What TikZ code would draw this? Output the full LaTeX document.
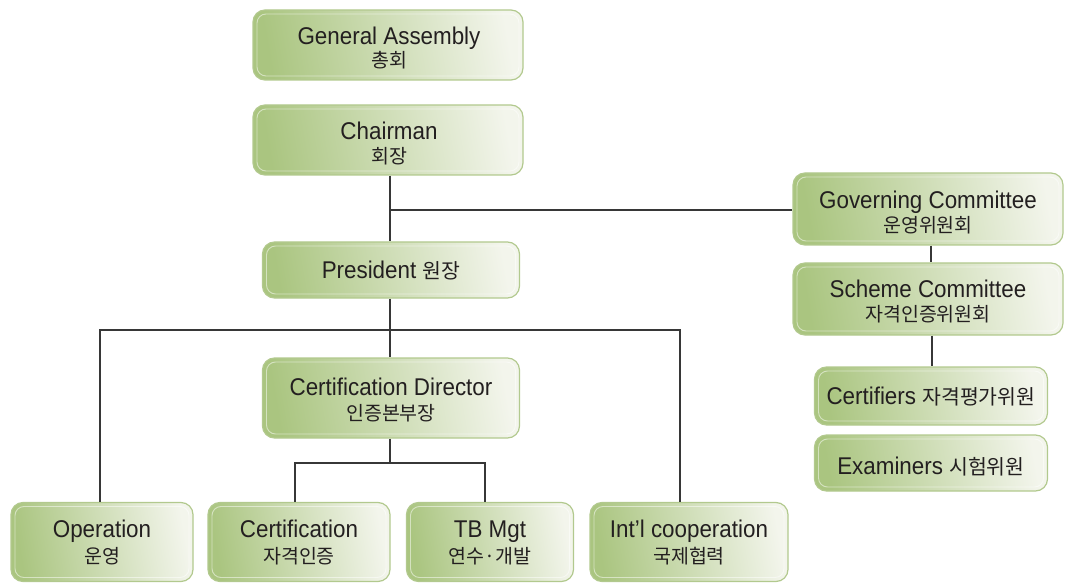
\documentclass[tikz,border=0pt]{standalone}
\usepackage{fontspec}
\setmainfont{Liberation Sans}[FakeStretch=0.925]
\newfontfamily\kr{Noto Sans CJK KR}
\definecolor{gA}{RGB}{170,197,128}
\definecolor{gM}{RGB}{199,215,168}
\definecolor{gB}{RGB}{243,245,236}
\definecolor{gEdge}{RGB}{178,201,142}
\definecolor{lineC}{RGB}{55,55,55}
\definecolor{txtC}{RGB}{35,31,32}
\tikzset{
  box/.style={rounded corners=12pt, draw=gEdge, line width=1.2pt,
    left color=gA, middle color=gM, right color=gB, shading angle=100, inner sep=0pt,
    path picture={\draw[white, opacity=0.5, line width=0.9pt, rounded corners=9pt]
      ([shift={(4pt,-4pt)}]path picture bounding box.north west) rectangle
      ([shift={(-4pt,4pt)}]path picture bounding box.south east);}},
  en/.style={anchor=base, inner sep=0pt, text=txtC, font=\fontsize{24.2}{28}\selectfont},
  ko/.style={anchor=base, inner sep=0pt, text=txtC, font=\kr\fontsize{19.5}{22}\selectfont},
  conn/.style={draw=lineC, line width=1.3pt},
}
\newcommand{\kosz}{\kr\fontsize{20.5}{22}\selectfont}
\begin{document}
\begin{tikzpicture}[x=1pt, y=-1pt]
\useasboundingbox (0,0) rectangle (1065,585);
% boxes
\node[box, minimum width=270, minimum height=70] (ga) at (388,45) {};
\node[box, minimum width=270, minimum height=70] (chair) at (388,140) {};
\node[box, minimum width=257, minimum height=56] (pres) at (391,270) {};
\node[box, minimum width=257, minimum height=80] (cd) at (391,398) {};
\node[box, minimum width=270, minimum height=72] (gov) at (928,209) {};
\node[box, minimum width=270, minimum height=72] (sch) at (928,299) {};
\node[box, minimum width=233, minimum height=58] (cfr) at (931,396) {};
\node[box, minimum width=233, minimum height=56] (exm) at (931,463) {};
\node[box, minimum width=182, minimum height=79] (op) at (102,542) {};
\node[box, minimum width=182, minimum height=79] (cert) at (299,542) {};
\node[box, minimum width=167, minimum height=79] (tb) at (490,542) {};
\node[box, minimum width=198, minimum height=79] (intl) at (689,542) {};
% connector coordinates
\coordinate (trunk) at (390,210);
\coordinate (busL) at (100,330);
\coordinate (busM) at (390,330);
\coordinate (busR) at (680,330);
\coordinate (subL) at (295,463);
\coordinate (subM) at (390,463);
\coordinate (subR) at (485,463);
\coordinate (govx) at (931,250);
\coordinate (schx) at (932,340);
% connectors
\draw[conn] (chair.south -| trunk) -- (pres.north -| trunk);
\draw[conn] (trunk) -- (gov.west |- trunk);
\draw[conn] (pres.south -| busM) -- (cd.north -| busM);
\draw[conn] (op.north -| busL) -- (busL) -- (busR) -- (intl.north -| busR);
\draw[conn] (cd.south -| subM) -- (subM);
\draw[conn] (cert.north -| subL) -- (subL) -- (subR) -- (tb.north -| subR);
\draw[conn] (gov.south -| govx) -- (sch.north -| govx);
\draw[conn] (sch.south -| schx) -- (cfr.north -| schx);
% texts
\node[en] (ga-en) at (389,44.5) {General Assembly};
\node[ko] (ga-ko) at (389,68) {총회};
\node[en] (chair-en) at (389,139.5) {Chairman};
\node[ko] (chair-ko) at (389,163.5) {회장};
\node[en] (pres-en) at (391,279) {President {\kosz 원장}};
\node[en] (cd-en) at (391,395) {Certification Director};
\node[ko] (cd-ko) at (391,420) {인증본부장};
\node[en] (gov-en) at (928,209) {Governing Committee};
\node[ko] (gov-ko) at (928,233) {운영위원회};
\node[en] (sch-en) at (928,298) {Scheme Committee};
\node[ko] (sch-ko) at (928,321.5) {자격인증위원회};
\node[en] (cfr-en) at (931,404) {Certifiers {\kosz 자격평가위원}};
\node[en] (exm-en) at (931,474) {Examiners {\kosz 시험위원}};
\node[en] (op-en) at (102,537) {Operation};
\node[ko] (op-ko) at (102,563) {운영};
\node[en] (cert-en) at (299,537) {Certification};
\node[ko] (cert-ko) at (299,563) {자격인증};
\node[en] (tb-en) at (490,537) {TB Mgt};
\node[ko] (tb-ko) at (490,563) {연수·개발};
\node[en] (intl-en) at (689,537) {Int’l cooperation};
\node[ko] (intl-ko) at (689,563) {국제협력};
\end{tikzpicture}
\end{document}
